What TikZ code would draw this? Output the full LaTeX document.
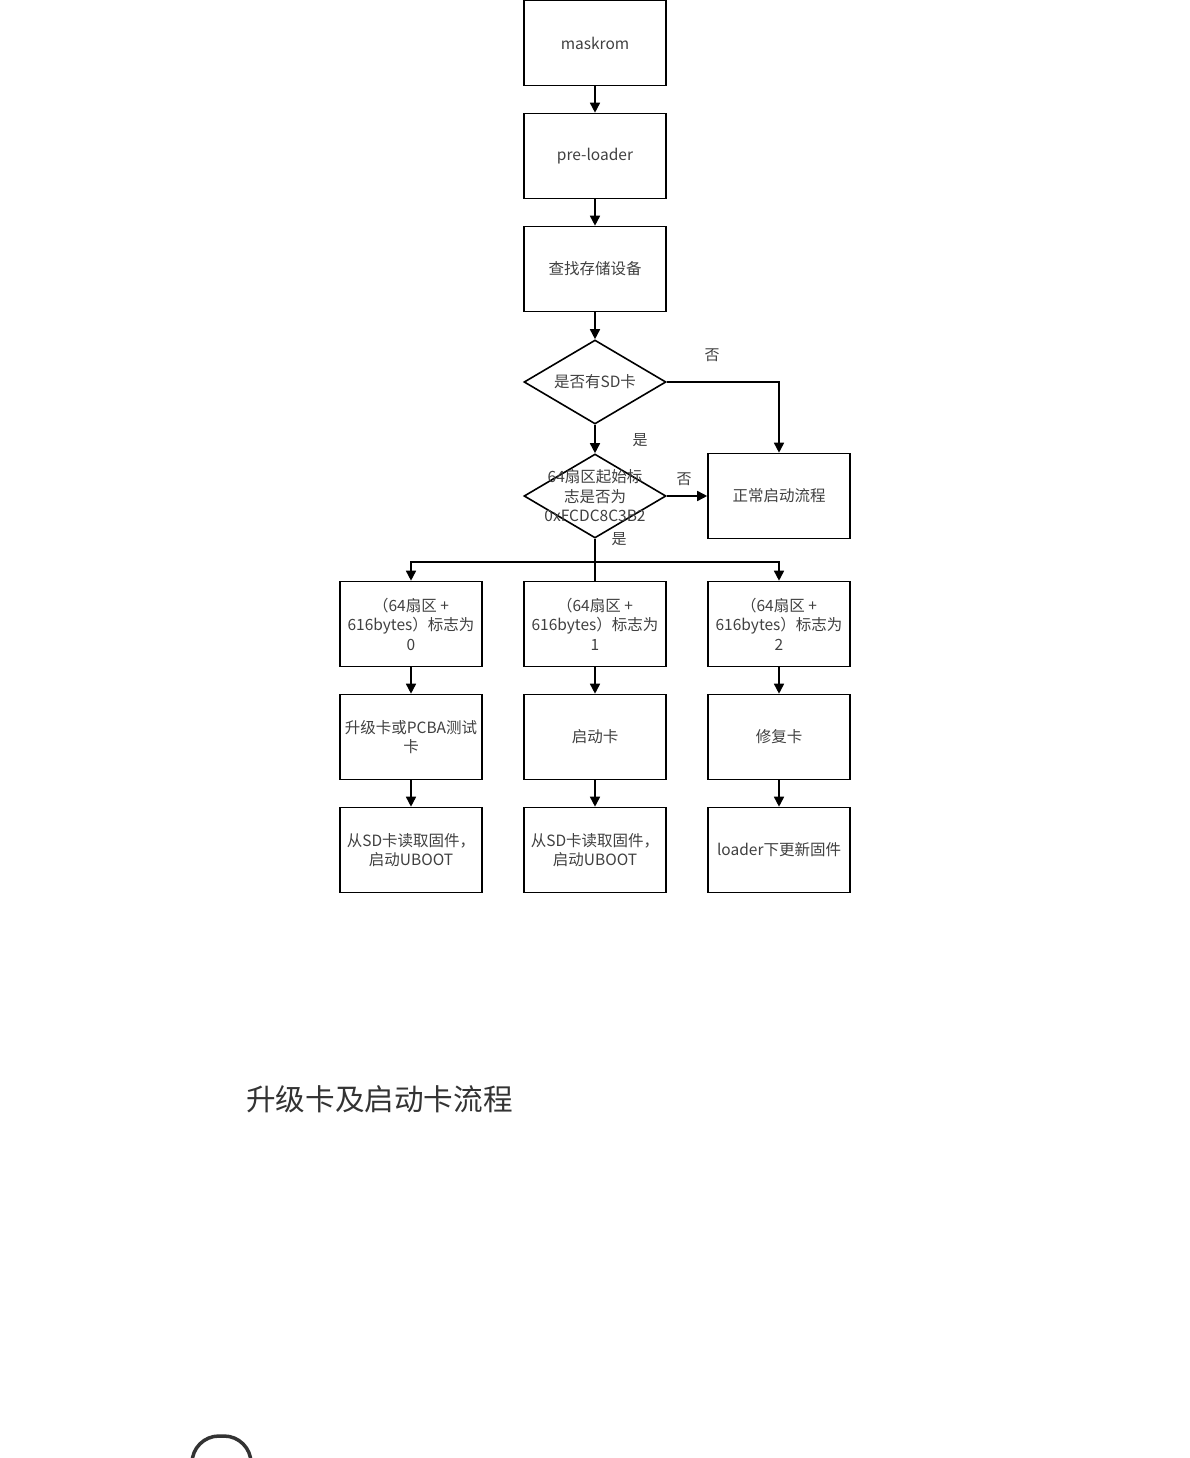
\documentclass[tikz,border=0pt]{standalone}
\usepackage{fontspec}
\newfontfamily\cjk{Noto Sans CJK SC}
\usetikzlibrary{shapes.geometric,arrows.meta}
\begin{document}
\begin{tikzpicture}[x=1pt,y=-1pt,
  box/.style={draw=black,line width=1.6pt,minimum width=142pt,minimum height=85pt,inner sep=0pt,anchor=center},
  dia/.style={draw=black,line width=1.6pt,diamond,minimum width=142pt,minimum height=84pt,inner sep=0pt},
  txt/.style={font=\cjk\fontsize{15.5}{19.5}\selectfont,text=black!75,align=center,inner sep=0pt},
  lbl/.style={font=\cjk\fontsize{15}{16}\selectfont,text=black!75,inner sep=0pt},
  conn/.style={line width=1.6pt,draw=black},
  arr/.style={conn,-{Triangle[width=10pt,length=10pt]}}]
\useasboundingbox (0,0) rectangle (1190,1458);
\clip (0,0) rectangle (1190,1458);
% top column
\node[box] (mask) at (595,43) {};
\node[txt] at (mask) {maskrom};
\node[box] (pre) at (595,156) {};
\node[txt] at (pre) {pre-loader};
\node[box] (find) at (595,269) {};
\node[txt] at (find) {查找存储设备};
\node[dia] (d1) at (595,382) {};
\node[txt] at (d1) {是否有SD卡};
\node[dia] (d2) at (595,496) {};
\node[txt] at (595,496) {64扇区起始标\\志是否为\\0xFCDC8C3B2};
\node[box] (normal) at (779,496) {};
\node[txt] at (normal) {正常启动流程};
% rows
\node[box] (f0) at (411,624) {};
\node[txt] at (f0) {（64扇区 +\\616bytes）标志为\\0};
\node[box] (f1) at (595,624) {};
\node[txt] at (f1) {（64扇区 +\\616bytes）标志为\\1};
\node[box] (f2) at (779,624) {};
\node[txt] at (f2) {（64扇区 +\\616bytes）标志为\\2};
\node[box] (c0) at (411,737) {};
\node[txt] at (c0) {升级卡或PCBA测试\\卡};
\node[box] (c1) at (595,737) {};
\node[txt] at (c1) {启动卡};
\node[box] (c2) at (779,737) {};
\node[txt] at (c2) {修复卡};
\node[box] (r0) at (411,850) {};
\node[txt] at (r0) {从SD卡读取固件，\\启动UBOOT};
\node[box] (r1) at (595,850) {};
\node[txt] at (r1) {从SD卡读取固件，\\启动UBOOT};
\node[box] (r2) at (779,850) {};
\node[txt] at (r2) {loader下更新固件};
% connectors
\draw[arr] (mask) -- (pre);
\draw[arr] (pre) -- (find);
\draw[arr] (find) -- (d1);
\draw[arr] (d1) -- (d2);
\draw[arr] (d1.east) -| (normal.north);
\draw[arr] (d2.east) -- (normal.west);
\coordinate (split) at (595,562);
\draw[conn] (d2.south) -- (split);
\draw[arr] (split) -| (f0.north);
\draw[arr] (split) -| (f2.north);
\draw[conn] (split) -- (f1.north);
\draw[arr] (f0) -- (c0);
\draw[arr] (f1) -- (c1);
\draw[arr] (f2) -- (c2);
\draw[arr] (c0) -- (r0);
\draw[arr] (c1) -- (r1);
\draw[arr] (c2) -- (r2);
% labels
\node[lbl] (no1) at (712,355) {否};
\node[lbl] (yes1) at (640,440) {是};
\node[lbl] (no2) at (684,479) {否};
\node[lbl] (yes2) at (619,539) {是};
% caption
\node[font=\cjk\fontsize{29.6}{32}\selectfont,text=black!80,anchor=west,inner sep=0pt] (cap) at (246,1099) {升级卡及启动卡流程};
% bottom-left partial rounded shape
\draw[line width=3.5pt,draw=black!80,rounded corners=27pt] (192,1480) -- (192,1436) -- (251,1436) -- (251,1480);
\end{tikzpicture}
\end{document}
